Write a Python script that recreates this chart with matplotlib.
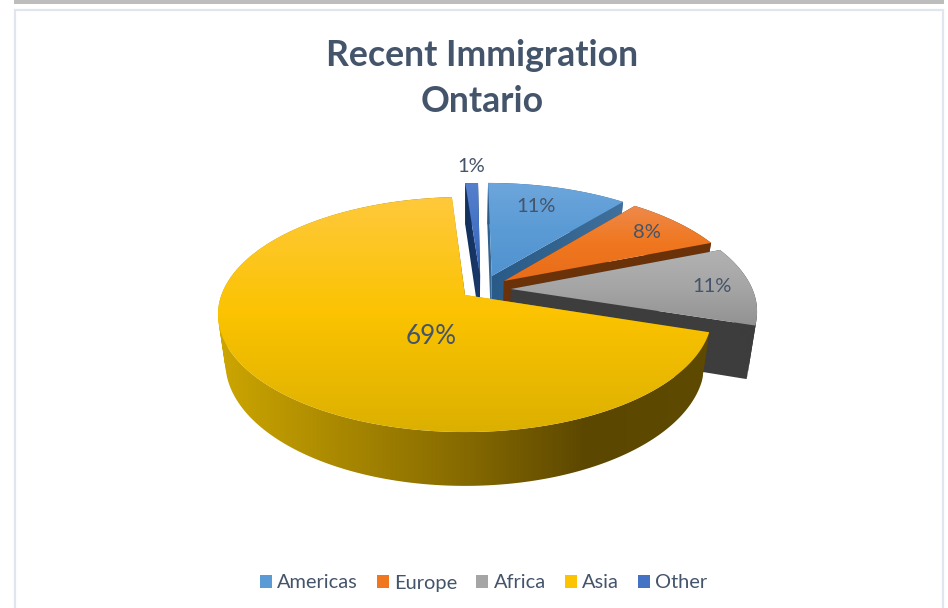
"""Recent immigration to Ontario, drawn as an exploded 3D-look pie."""

import numpy as np
import matplotlib
matplotlib.use("Agg")
import matplotlib.pyplot as plt
from matplotlib.colors import LinearSegmentedColormap
from matplotlib.patches import Patch, PathPatch, Polygon, Rectangle
from matplotlib.path import Path

# ----------------------------------------------------------------------
# Data
# ----------------------------------------------------------------------
categories = ["Americas", "Europe", "Africa", "Asia", "Other"]
shares = [11, 8, 11, 69, 1]
title_lines = ["Recent Immigration", "Ontario"]

# ----------------------------------------------------------------------
# Styling
# ----------------------------------------------------------------------
TEXT = "#44546a"
top_grad = {
    "Americas": ["#6da6dc", "#5b9bd5", "#5093d0"],
    "Europe": ["#ee8a4c", "#f0771f", "#e86c1a"],
    "Africa": ["#b2b2b2", "#a5a5a5", "#929292"],
    "Asia": ["#ffc93c", "#fbc300", "#dcb000"],
    "Other": ["#5580cc", "#4472c4", "#2f5fb5"],
}
wall_grad = {
    "Americas": ["#2a5a88", "#33648f", "#41709c"],
    "Europe": ["#6b3209", "#6b3209"],
    "Africa": ["#3d3d3d", "#3d3d3d"],
    "Asia": ["#cda600", "#a98800", "#866a00", "#5c4700", "#5f4a00"],
    "Other": ["#12305c", "#1a3a6c"],
}
legend_colors = ["#5b9bd5", "#f0771f", "#a5a5a5", "#fbc300", "#4472c4"]
# how far each slice is pulled out, in pie-radius units (sideways, backwards)
explode = {"Americas": (0.113, 0.171), "Europe": (0.163, 0.125),
           "Africa": (0.19, 0.053), "Asia": (0.0, 0.0), "Other": (0.064, 0.17)}
wall_extra = {"Americas": 0, "Europe": 0, "Africa": 5, "Asia": 0, "Other": 0}
draw_order = ["Americas", "Other", "Europe", "Africa", "Asia"]

# perspective of the disc: centre pixel, half width, half height, foreshortening
CX, K = 465.0, 0.166
TOP = dict(cy=295.0, a=243.6, b=114.3)
BOT = dict(cy=342.0, a=236.3, b=120.0)


def project(u, v, p, drop=0):
    w = 1 + K * v
    return CX + p["a"] * u / w, p["cy"] + drop - p["b"] * v / w


def gradient_clip(ax, path, bbox, colors, vertical, zorder):
    """Paint a linear gradient over bbox, clipped to path."""
    cmap = LinearSegmentedColormap.from_list("g", colors)
    ramp = np.linspace(0, 1, 256)
    ramp = ramp[:, None] if vertical else ramp[None, :]
    x0, y0, x1, y1 = bbox
    im = ax.imshow(ramp, cmap=cmap, extent=(x0, x1, y1, y0), origin="upper",
                   aspect="auto", zorder=zorder, interpolation="bilinear")
    patch = PathPatch(path, fc="none", ec="none", transform=ax.transData)
    ax.add_patch(patch)
    im.set_clip_path(patch)


def gradient_poly(ax, xy, colors, vertical=True, zorder=1):
    path = Polygon(xy, closed=True).get_path()
    gradient_clip(ax, path, (*xy.min(axis=0), *xy.max(axis=0)), colors, vertical, zorder)


def rim_strip(ax, top, bot, colors, zorder=1):
    """Curved wall: union of small quads, all wound the same way."""
    quads = np.stack([top[:-1], top[1:], bot[1:], bot[:-1]], axis=1)
    x, y = quads[:, :, 0], quads[:, :, 1]
    area = np.sum(x * np.roll(y, -1, axis=1) - np.roll(x, -1, axis=1) * y, axis=1)
    quads[area < 0] = quads[area < 0][:, ::-1]
    verts = np.concatenate([quads, quads[:, :1]], axis=1).reshape(-1, 2)
    codes = np.tile([Path.MOVETO, Path.LINETO, Path.LINETO, Path.LINETO, Path.CLOSEPOLY],
                    len(quads))
    all_pts = np.vstack([top, bot])
    gradient_clip(ax, Path(verts, codes), (*all_pts.min(axis=0), *all_pts.max(axis=0)),
                  colors, False, zorder)


fig = plt.figure(figsize=(9.48, 6.08), dpi=100)
ax = fig.add_axes([0, 0, 1, 1])
plt.rcParams["font.family"] = ["Lato", "DejaVu Sans"]

# page furniture
ax.add_patch(Rectangle((14, 0), 930, 3.5, fc="#bdbdbd", ec="none", zorder=0))
ax.add_patch(Rectangle((15, 10), 928, 610, fc="white", ec="#e1e5ee", lw=1.6, zorder=0))

# slice angles, clockwise from 12 o'clock
edges = np.deg2rad(np.cumsum([0] + shares) * 3.6)
angles = {c: (edges[i], edges[i + 1]) for i, c in enumerate(categories)}

z = 1
for name in draw_order:
    t0, t1 = angles[name]
    du, dv = explode[name]
    th = np.linspace(t0, t1, 300)
    u, v = du + np.sin(th), dv + np.cos(th)
    top = np.column_stack(project(u, v, TOP))
    bot = np.column_stack(project(u, v, BOT, wall_extra[name]))
    apex_top = np.array(project(du, dv, TOP))
    apex_bot = np.array(project(du, dv, BOT, wall_extra[name]))

    # cut faces, then the rim, then the top face
    for i in (0, -1):
        face = np.array([apex_top, top[i], bot[i], apex_bot])
        gradient_poly(ax, face, wall_grad[name], vertical=False, zorder=z)
        z += 1
    rim_strip(ax, top, bot, wall_grad[name], zorder=z)
    z += 1
    gradient_poly(ax, np.vstack([apex_top, top]), top_grad[name], zorder=z)
    z += 1

# data labels
label_pos = {"Americas": (536, 206), "Europe": (647, 233), "Africa": (712, 287),
             "Asia": (431, 336), "Other": (471, 166)}
for name, s in zip(categories, shares):
    ax.text(*label_pos[name], f"{s}%", ha="center", va="center", color=TEXT,
            fontsize=18.7 if name == "Asia" else 14.5, zorder=z)

ax.text(482, 55, title_lines[0], ha="center", va="center", color=TEXT,
        fontsize=25.7, fontweight="bold", zorder=z)
ax.text(482, 101, title_lines[1], ha="center", va="center", color=TEXT,
        fontsize=25.7, fontweight="bold", zorder=z)

handles = [Patch(fc=c, ec="none") for c in legend_colors]
leg = ax.legend(handles, categories, loc="center", bbox_to_anchor=(483.5 / 948, 1 - 583 / 608),
                ncol=5, frameon=False, fontsize=14.4, handlelength=0.6, handleheight=0.6,
                columnspacing=0.97, handletextpad=0.25, labelcolor=TEXT)
leg.set_zorder(z)

ax.set_xlim(0, 948)
ax.set_ylim(608, 0)
ax.axis("off")
fig.savefig("out.png", dpi=100)
